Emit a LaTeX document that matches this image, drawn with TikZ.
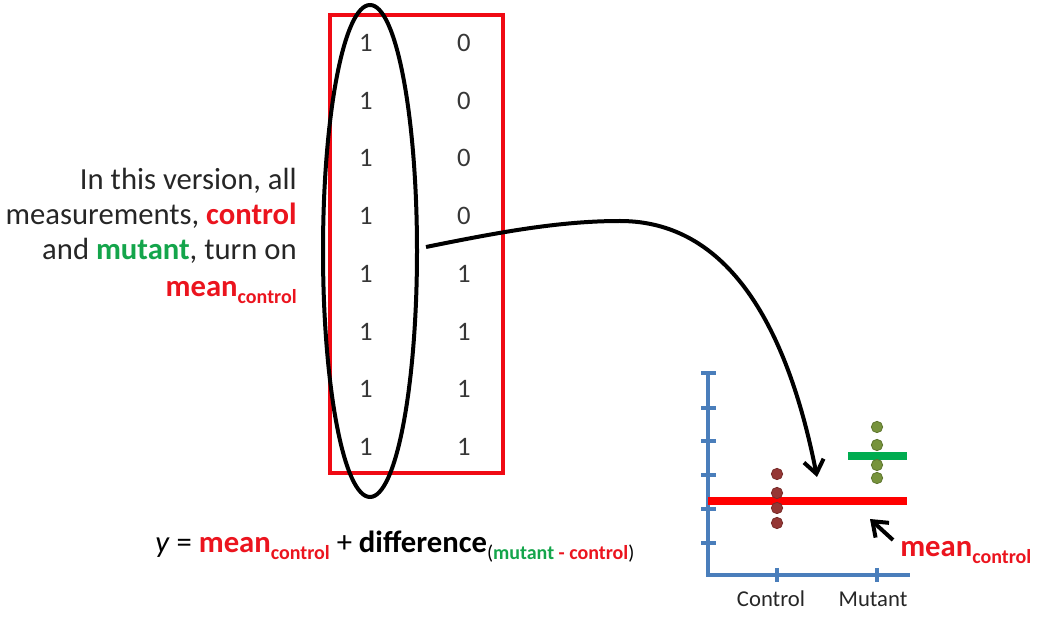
\documentclass[tikz,border=0pt]{standalone}
\usepackage{fontspec}
\setmainfont{Carlito}
\usetikzlibrary{arrows.meta,shapes.geometric}
\definecolor{txtgray}{RGB}{38,38,38}
\definecolor{digitgray}{RGB}{55,55,55}
\definecolor{boxred}{RGB}{240,10,20}
\definecolor{tred}{RGB}{235,20,30}
\definecolor{tgreen}{RGB}{20,165,75}
\definecolor{bargreen}{RGB}{0,172,80}
\definecolor{axisblue}{RGB}{74,126,187}
\definecolor{dotred}{RGB}{149,55,53}
\definecolor{dotgreen}{RGB}{119,147,60}
\newcommand{\meanctl}{\textbf{mean}\raisebox{-5pt}{\fontsize{15}{15}\selectfont\bfseries control}}
\tikzset{
  lefttxt/.style={anchor=base east, inner sep=0pt, text=txtgray, font=\fontsize{23}{26}\selectfont},
  eqtxt/.style={anchor=base west, inner sep=0pt, text=black, font=\fontsize{23}{26}\selectfont},
  digit/.style={inner sep=0pt, text=digitgray, font=\fontsize{20}{20}\selectfont},
  redbox/.style={draw=boxred, line width=2.6pt},
  oval/.style={draw=black, ellipse, line width=3pt, inner sep=0pt, minimum width=70.5pt, minimum height=369pt},
  arr/.style={draw=black, line width=3pt, -{Straight Barb[length=10pt,width=15pt]}},
  axisline/.style={draw=axisblue, line width=2.4pt},
  axlbl/.style={inner sep=0pt, text=txtgray, font=\fontsize{17}{18}\selectfont},
  redbar/.style={draw=red, line width=5.3pt},
  greenbar/.style={draw=bargreen, line width=5.3pt},
  rdot/.style={circle, fill=dotred, draw=dotred!80!black, line width=0.6pt, minimum size=8.5pt, inner sep=0pt},
  gdot/.style={circle, fill=dotgreen, draw=dotgreen!80!black, line width=0.6pt, minimum size=8.5pt, inner sep=0pt},
  meanlbl/.style={anchor=base west, inner sep=0pt, text=tred, font=\fontsize{23}{26}\selectfont}
}
\begin{document}
\begin{tikzpicture}[x=0.75pt, y=-0.75pt]
\useasboundingbox (0,0) rectangle (1051,623);
% matrix box
\draw[redbox] (330,15) rectangle (503,473);
\foreach \i/\a/\b in {0/1/0,1/1/0,2/1/0,3/1/0,4/1/1,5/1/1,6/1/1,7/1/1}{
  \node[digit] (a\i) at (366,{43+57.7*\i}) {\a};
  \node[digit] (b\i) at (464,{43+57.7*\i}) {\b};
}
\node[oval] (ov) at (370,251) {};
% left text
\node[lefttxt] (l1) at (297,190) {In this version, all};
\node[lefttxt] (l2) at (297,225) {measurements, \textcolor{tred}{\textbf{control}}};
\node[lefttxt] (l3) at (297,260) {and \textcolor{tgreen}{\textbf{mutant}}, turn on};
\node[lefttxt] (l4) at (297,297) {\textcolor{tred}{\meanctl}};
% equation
\node[eqtxt] (eq) at (155,553) {\textit{y} = \textcolor{tred}{\meanctl} + \textbf{difference}\raisebox{-5pt}{\fontsize{15}{15}\selectfont(\textcolor{tgreen}{\textbf{mutant}} \textcolor{tred}{\textbf{-}} \textcolor{tred}{\textbf{control}})}};
% plot axes
\draw[axisline] (708,373) -- (708,575) -- (910,575);
\foreach \y in {373,408,441,475,509,543}{
  \draw[axisline] (701,\y) -- (716,\y);
}
\draw[axisline] (777,568) -- (777,582);
\draw[axisline] (877,568) -- (877,582);
\node[axlbl] (ctl) at (771,599) {Control};
\node[axlbl] (mut) at (873,599) {Mutant};
% bars
\draw[redbar] (708,501) -- (907,501);
\draw[greenbar] (848,456) -- (907,456);
% dots
\foreach \y [count=\k] in {474,493,508,523}{
  \node[rdot] (r\k) at (777,\y) {};
}
\foreach \y [count=\k] in {427,445,465,478}{
  \node[gdot] (g\k) at (877,\y) {};
}
% mean label and arrow
\node[meanlbl] (mlbl) at (900,557) {\meanctl};
\coordinate (mtail) at (893,540);
\coordinate (mtip) at (870,519);
\draw[arr] (mtail) -- (mtip);
% big arrow
\coordinate (bs) at (426,247);
\coordinate (be) at (817,477);
\draw[arr] (bs) .. controls (500,232) and (560,221) .. (620,221) .. controls (735,221) and (790,340) .. (be);
\end{tikzpicture}
\end{document}
